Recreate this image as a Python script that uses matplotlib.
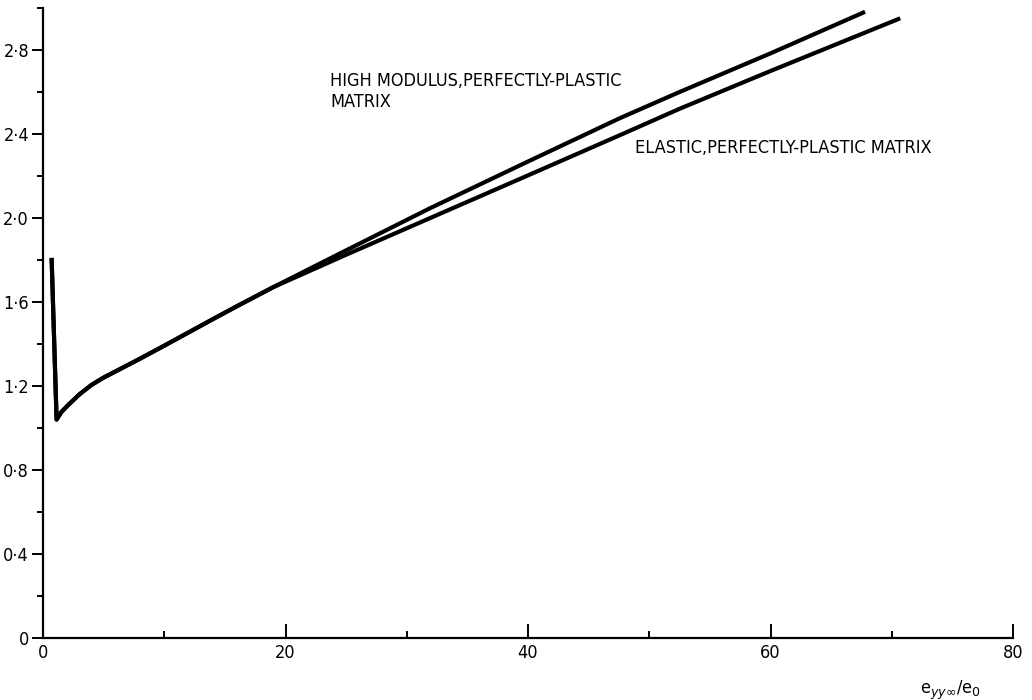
import matplotlib
matplotlib.use("Agg")
import matplotlib.pyplot as plt
from matplotlib.ticker import MultipleLocator, FixedLocator

# Shared initial part (spike + rising branch common to both curves)
shared_x = [0.71, 1.12, 1.5, 2.0, 3.0, 4.0, 5.0, 6.0, 7.0, 8.0, 10.0, 12.0, 14.0, 16.0, 19.0]
shared_y = [1.81, 1.04, 1.075, 1.105, 1.16, 1.205, 1.24, 1.27, 1.30, 1.33, 1.392, 1.455, 1.518, 1.58, 1.671]

# High modulus, perfectly-plastic matrix (upper branch)
high_x = [25.0, 31.9, 40.0, 47.6, 52.5, 60.0, 67.8]
high_y = [1.846, 2.046, 2.269, 2.476, 2.60, 2.784, 2.982]

# Elastic, perfectly-plastic matrix (lower branch)
elastic_x = [25.0, 31.9, 40.0, 47.6, 52.5, 60.0, 70.7]
elastic_y = [1.825, 1.999, 2.203, 2.395, 2.52, 2.70, 2.951]

x_ticks = [0, 20, 40, 60, 80]
x_ticklabels = ["0", "20", "40", "60", "80"]
y_ticks = [0, 0.4, 0.8, 1.2, 1.6, 2.0, 2.4, 2.8]
y_ticklabels = ["0", "0·4", "0·8", "1·2", "1·6", "2·0", "2·4", "2·8"]

label_high = "HIGH MODULUS,PERFECTLY-PLASTIC\nMATRIX"
label_elastic = "ELASTIC,PERFECTLY-PLASTIC MATRIX"
x_label = r"e$_{yy\infty}$/e$_0$"

FONT = dict(family="DejaVu Sans", stretch="condensed")

fig = plt.figure(figsize=(10.32, 7.0), dpi=100)
ax = fig.add_axes([43 / 1032, 62 / 700, 970 / 1032, 630 / 700])

ax.plot(shared_x + high_x, shared_y + high_y, color="black", lw=3.0,
        solid_joinstyle="round", solid_capstyle="butt")
ax.plot(shared_x + elastic_x, shared_y + elastic_y, color="black", lw=3.0,
        solid_joinstyle="round", solid_capstyle="butt")

ax.set_xlim(0, 80)
ax.set_ylim(0, 3.0)

for s in ["top", "right"]:
    ax.spines[s].set_visible(False)
for s in ["left", "bottom"]:
    ax.spines[s].set_linewidth(1.6)

ax.xaxis.set_major_locator(FixedLocator(x_ticks))
ax.set_xticklabels(x_ticklabels, **FONT)
ax.xaxis.set_minor_locator(MultipleLocator(10))
ax.yaxis.set_major_locator(FixedLocator(y_ticks))
ax.set_yticklabels(y_ticklabels, **FONT)
ax.yaxis.set_minor_locator(MultipleLocator(0.2))

ax.tick_params(axis="x", which="major", direction="in", length=10, width=1.4,
               labelsize=13, pad=4)
ax.tick_params(axis="x", which="minor", direction="in", length=5, width=1.4)
ax.tick_params(axis="y", which="major", direction="out", length=8, width=1.4,
               labelsize=13, pad=2)
ax.tick_params(axis="y", which="minor", direction="out", length=4, width=1.4)

ax.text(23.67, 2.695, label_high, ha="left", va="top", fontsize=13,
        linespacing=1.2, **FONT)
ax.text(48.8, 2.333, label_elastic, ha="left", va="center", fontsize=13, **FONT)

fig.text(950 / 1032, 1 - 690 / 700, x_label, ha="center", va="center",
         fontsize=13, **FONT)

fig.savefig("out.png", dpi=100)
